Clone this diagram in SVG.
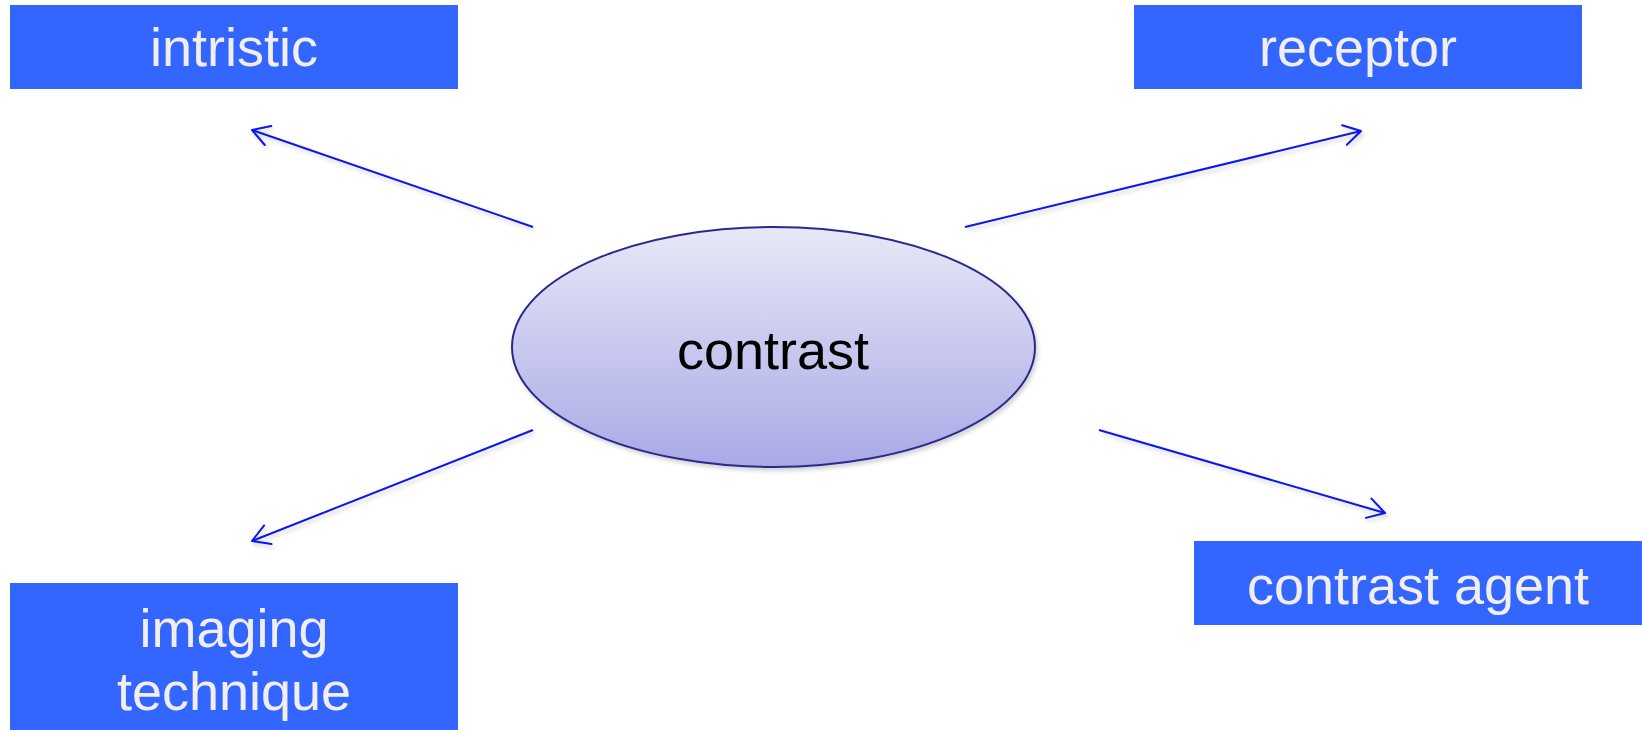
<svg xmlns="http://www.w3.org/2000/svg" width="1642" height="730" viewBox="0 0 1642 730">
  <style>
    .box { fill: #3366ff; }
    .box-label { font-family: "Liberation Sans", Arial, sans-serif; font-size: 54px; fill: #f2eeee; text-anchor: middle; }
    .hub-label { font-family: "Liberation Sans", Arial, sans-serif; font-size: 54px; fill: #000000; text-anchor: middle; }
    .link { stroke: #0a14f0; stroke-width: 2; fill: none; marker-end: url(#open-arrow); filter: url(#soft-shadow); }
  </style>
  <defs>
    <linearGradient id="hub-fill" x1="0" y1="0" x2="0" y2="1">
      <stop offset="0" stop-color="#e8e8f8"/>
      <stop offset="1" stop-color="#a9a9e6"/>
    </linearGradient>
    <filter id="soft-shadow" x="-10%" y="-30%" width="130%" height="160%">
      <feDropShadow dx="2" dy="3" stdDeviation="2" flood-color="#000" flood-opacity="0.18"/>
    </filter>
    <marker id="open-arrow" markerUnits="userSpaceOnUse" markerWidth="30" markerHeight="30" refX="0" refY="0" viewBox="-20 -15 25 30" orient="auto" overflow="visible">
      <path d="M -17,-10 L 0,0 L -17,10" fill="none" stroke="#0a14f0" stroke-width="2" stroke-linecap="round" stroke-linejoin="round"/>
    </marker>
  </defs>

  <!-- connectors from the hub to each outer box -->
  <g id="connectors">
    <line class="link" x1="533" y1="227" x2="252" y2="130"/>
    <line class="link" x1="965" y1="227" x2="1361" y2="131"/>
    <line class="link" x1="533" y1="430" x2="252" y2="541"/>
    <line class="link" x1="1099" y1="430" x2="1385" y2="513"/>
  </g>

  <g id="node-contrast">
    <ellipse cx="773.5" cy="347" rx="261.5" ry="120" fill="url(#hub-fill)" stroke="#2a2a8c" stroke-width="2" filter="url(#soft-shadow)"/>
    <text class="hub-label" x="773" y="369">contrast</text>
  </g>

  <g id="node-intristic">
    <rect class="box" x="10" y="5" width="448" height="84"/>
    <text class="box-label" x="234" y="66">intristic</text>
  </g>

  <g id="node-receptor">
    <rect class="box" x="1134" y="5" width="448" height="84"/>
    <text class="box-label" x="1358" y="66">receptor</text>
  </g>

  <g id="node-imaging-technique">
    <rect class="box" x="10" y="583" width="448" height="147"/>
    <text class="box-label" x="234" y="647">imaging</text>
    <text class="box-label" x="234" y="710">technique</text>
  </g>

  <g id="node-contrast-agent">
    <rect class="box" x="1194" y="541" width="448" height="84"/>
    <text class="box-label" x="1418" y="604">contrast agent</text>
  </g>
</svg>
